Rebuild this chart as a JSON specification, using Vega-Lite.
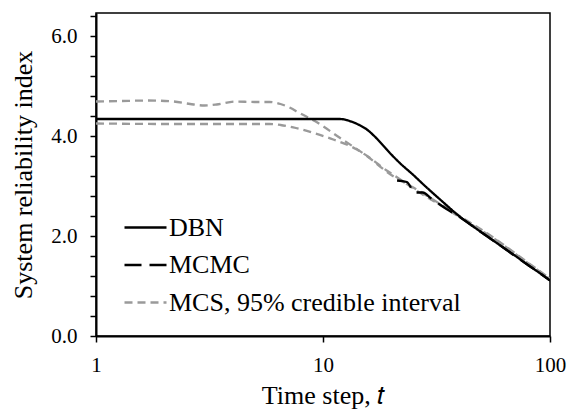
{
  "$schema": "https://vega.github.io/schema/vega-lite/v6.json",
  "autosize": {"type": "none"},
  "padding": {"left": 96, "top": 13, "right": 19, "bottom": 76},
  "width": 454,
  "height": 323,
  "background": "white",
  "config": {
    "view": {"stroke": "black", "strokeWidth": 1.5},
    "axis": {
      "domainColor": "black", "domainWidth": 2, "tickColor": "black", "tickWidth": 1.5, "tickSize": 6,
      "grid": false, "labelFont": "Liberation Serif", "labelFontSize": 21, "labelColor": "black",
      "titleFont": "Liberation Serif", "titleFontSize": 26, "titleFontWeight": "normal", "titleColor": "black",
      "labelOverlap": false, "labelFlush": false, "labelBound": false
    },
    "legend": {
      "labelFont": "Liberation Serif", "labelFontSize": 26, "labelColor": "black", "labelLimit": 0
    }
  },
  "data": {"values": [
    {"t": 1, "v": 4.69, "s": "MCS, 95% credible interval", "line": "MCS_U"},
    {"t": 1.3, "v": 4.7, "s": "MCS, 95% credible interval", "line": "MCS_U"},
    {"t": 1.7, "v": 4.71, "s": "MCS, 95% credible interval", "line": "MCS_U"},
    {"t": 2.2, "v": 4.69, "s": "MCS, 95% credible interval", "line": "MCS_U"},
    {"t": 2.6, "v": 4.64, "s": "MCS, 95% credible interval", "line": "MCS_U"},
    {"t": 3.0, "v": 4.61, "s": "MCS, 95% credible interval", "line": "MCS_U"},
    {"t": 3.4, "v": 4.63, "s": "MCS, 95% credible interval", "line": "MCS_U"},
    {"t": 4.1, "v": 4.69, "s": "MCS, 95% credible interval", "line": "MCS_U"},
    {"t": 5.0, "v": 4.68, "s": "MCS, 95% credible interval", "line": "MCS_U"},
    {"t": 5.8, "v": 4.68, "s": "MCS, 95% credible interval", "line": "MCS_U"},
    {"t": 6.5, "v": 4.64, "s": "MCS, 95% credible interval", "line": "MCS_U"},
    {"t": 7.2, "v": 4.56, "s": "MCS, 95% credible interval", "line": "MCS_U"},
    {"t": 7.8, "v": 4.47, "s": "MCS, 95% credible interval", "line": "MCS_U"},
    {"t": 9.2, "v": 4.3, "s": "MCS, 95% credible interval", "line": "MCS_U"},
    {"t": 11.9, "v": 3.96, "s": "MCS, 95% credible interval", "line": "MCS_U"},
    {"t": 15.6, "v": 3.6, "s": "MCS, 95% credible interval", "line": "MCS_U"},
    {"t": 19.7, "v": 3.24, "s": "MCS, 95% credible interval", "line": "MCS_U"},
    {"t": 25, "v": 2.97, "s": "MCS, 95% credible interval", "line": "MCS_U"},
    {"t": 32.8, "v": 2.64, "s": "MCS, 95% credible interval", "line": "MCS_U"},
    {"t": 44.4, "v": 2.27, "s": "MCS, 95% credible interval", "line": "MCS_U"},
    {"t": 55, "v": 2.0, "s": "MCS, 95% credible interval", "line": "MCS_U"},
    {"t": 70, "v": 1.66, "s": "MCS, 95% credible interval", "line": "MCS_U"},
    {"t": 85, "v": 1.38, "s": "MCS, 95% credible interval", "line": "MCS_U"},
    {"t": 100, "v": 1.15, "s": "MCS, 95% credible interval", "line": "MCS_U"},
    {"t": 1, "v": 4.25, "s": "MCS, 95% credible interval", "line": "MCS_L"},
    {"t": 2, "v": 4.24, "s": "MCS, 95% credible interval", "line": "MCS_L"},
    {"t": 3, "v": 4.24, "s": "MCS, 95% credible interval", "line": "MCS_L"},
    {"t": 4, "v": 4.24, "s": "MCS, 95% credible interval", "line": "MCS_L"},
    {"t": 5, "v": 4.24, "s": "MCS, 95% credible interval", "line": "MCS_L"},
    {"t": 5.8, "v": 4.24, "s": "MCS, 95% credible interval", "line": "MCS_L"},
    {"t": 6.5, "v": 4.22, "s": "MCS, 95% credible interval", "line": "MCS_L"},
    {"t": 7.6, "v": 4.16, "s": "MCS, 95% credible interval", "line": "MCS_L"},
    {"t": 9.1, "v": 4.06, "s": "MCS, 95% credible interval", "line": "MCS_L"},
    {"t": 11.1, "v": 3.93, "s": "MCS, 95% credible interval", "line": "MCS_L"},
    {"t": 14.1, "v": 3.73, "s": "MCS, 95% credible interval", "line": "MCS_L"},
    {"t": 16, "v": 3.57, "s": "MCS, 95% credible interval", "line": "MCS_L"},
    {"t": 18.4, "v": 3.36, "s": "MCS, 95% credible interval", "line": "MCS_L"},
    {"t": 21.1, "v": 3.18, "s": "MCS, 95% credible interval", "line": "MCS_L"},
    {"t": 25, "v": 2.95, "s": "MCS, 95% credible interval", "line": "MCS_L"},
    {"t": 32.8, "v": 2.62, "s": "MCS, 95% credible interval", "line": "MCS_L"},
    {"t": 44.4, "v": 2.25, "s": "MCS, 95% credible interval", "line": "MCS_L"},
    {"t": 55, "v": 1.99, "s": "MCS, 95% credible interval", "line": "MCS_L"},
    {"t": 70, "v": 1.65, "s": "MCS, 95% credible interval", "line": "MCS_L"},
    {"t": 85, "v": 1.37, "s": "MCS, 95% credible interval", "line": "MCS_L"},
    {"t": 100, "v": 1.14, "s": "MCS, 95% credible interval", "line": "MCS_L"},
    {"t": 1, "v": 4.34, "s": "DBN", "line": "DBN"},
    {"t": 2, "v": 4.34, "s": "DBN", "line": "DBN"},
    {"t": 5, "v": 4.34, "s": "DBN", "line": "DBN"},
    {"t": 10, "v": 4.34, "s": "DBN", "line": "DBN"},
    {"t": 11.9, "v": 4.34, "s": "DBN", "line": "DBN"},
    {"t": 13.1, "v": 4.3, "s": "DBN", "line": "DBN"},
    {"t": 14.3, "v": 4.23, "s": "DBN", "line": "DBN"},
    {"t": 15.6, "v": 4.13, "s": "DBN", "line": "DBN"},
    {"t": 16.9, "v": 3.99, "s": "DBN", "line": "DBN"},
    {"t": 18.4, "v": 3.81, "s": "DBN", "line": "DBN"},
    {"t": 20, "v": 3.63, "s": "DBN", "line": "DBN"},
    {"t": 21.8, "v": 3.46, "s": "DBN", "line": "DBN"},
    {"t": 25, "v": 3.22, "s": "DBN", "line": "DBN"},
    {"t": 28, "v": 3.01, "s": "DBN", "line": "DBN"},
    {"t": 32.8, "v": 2.73, "s": "DBN", "line": "DBN"},
    {"t": 40, "v": 2.39, "s": "DBN", "line": "DBN"},
    {"t": 50, "v": 2.07, "s": "DBN", "line": "DBN"},
    {"t": 60, "v": 1.82, "s": "DBN", "line": "DBN"},
    {"t": 70, "v": 1.61, "s": "DBN", "line": "DBN"},
    {"t": 80, "v": 1.42, "s": "DBN", "line": "DBN"},
    {"t": 90, "v": 1.26, "s": "DBN", "line": "DBN"},
    {"t": 100, "v": 1.11, "s": "DBN", "line": "DBN"},
    {"t": 21.2, "v": 3.11, "s": "MCMC", "line": "MCMC"},
    {"t": 23.4, "v": 3.08, "s": "MCMC", "line": "MCMC"},
    {"t": 25.4, "v": 2.87, "s": "MCMC", "line": "MCMC"},
    {"t": 27.5, "v": 2.87, "s": "MCMC", "line": "MCMC"},
    {"t": 30, "v": 2.75, "s": "MCMC", "line": "MCMC"},
    {"t": 35, "v": 2.54, "s": "MCMC", "line": "MCMC"},
    {"t": 40, "v": 2.38, "s": "MCMC", "line": "MCMC"},
    {"t": 50, "v": 2.07, "s": "MCMC", "line": "MCMC"},
    {"t": 60, "v": 1.82, "s": "MCMC", "line": "MCMC"},
    {"t": 70, "v": 1.6, "s": "MCMC", "line": "MCMC"},
    {"t": 80, "v": 1.42, "s": "MCMC", "line": "MCMC"},
    {"t": 90, "v": 1.26, "s": "MCMC", "line": "MCMC"},
    {"t": 100, "v": 1.11, "s": "MCMC", "line": "MCMC"}
  ]},
  "mark": {"type": "line", "strokeWidth": 2.3, "clip": true, "interpolate": "monotone"},
  "encoding": {
    "x": {
      "field": "t", "type": "quantitative",
      "scale": {"type": "log", "domain": [1, 100], "nice": false},
      "axis": {"values": [1, 10, 100], "format": "d", "title": "Time step, 𝑡", "labelPadding": 12, "titlePadding": 7}
    },
    "y": {
      "field": "v", "type": "quantitative",
      "scale": {"domain": [0, 6.46], "nice": false, "zero": false},
      "axis": {
        "values": [0, 0.4, 0.8, 1.2, 1.6, 2, 2.4, 2.8, 3.2, 3.6, 4, 4.4, 4.8, 5.2, 5.6, 6, 6.4],
        "labelExpr": "datum.value % 2 === 0 ? format(datum.value, '.1f') : ''",
        "title": "System reliability index", "labelPadding": 13, "titlePadding": 14
      }
    },
    "color": {
      "field": "s", "type": "nominal",
      "scale": {"domain": ["DBN", "MCMC", "MCS, 95% credible interval"], "range": ["#000000", "#000000", "#9a9a9a"]},
      "legend": {
        "title": null, "orient": "none", "legendX": 27, "legendY": 192,
        "symbolType": "stroke", "symbolSize": 1764, "symbolStrokeWidth": 2.5, "labelOffset": 1, "rowPadding": 1.5
      }
    },
    "strokeDash": {
      "field": "s", "type": "nominal",
      "scale": {"domain": ["DBN", "MCMC", "MCS, 95% credible interval"], "range": [[1, 0], [17, 8], [8, 5]]},
      "legend": {
        "title": null, "orient": "none", "legendX": 27, "legendY": 192,
        "symbolType": "stroke", "symbolSize": 1764, "symbolStrokeWidth": 2.5, "labelOffset": 1, "rowPadding": 1.5
      }
    },
    "detail": {"field": "line", "type": "nominal"}
  }
}
